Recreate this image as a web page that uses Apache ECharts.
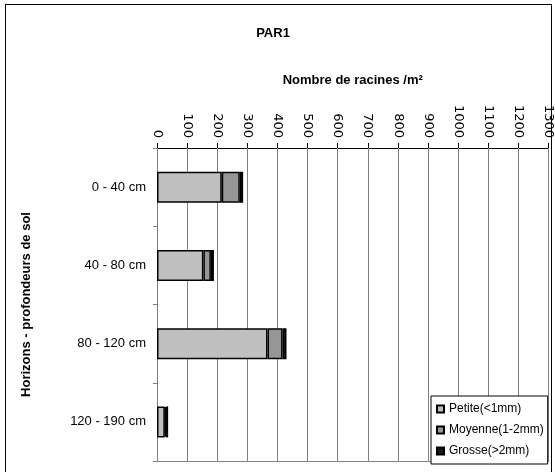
<!DOCTYPE html>
<html>
<head>
<meta charset="utf-8">
<script src="https://cdn.jsdelivr.net/npm/echarts@6/dist/echarts.min.js"></script>
<style>
  html, body { margin: 0; padding: 0; background: #fff; }
  #wrap { position: relative; width: 555px; height: 472px; }
  #chart { width: 555px; height: 472px; }
  #frame { position: absolute; left: 5px; top: 4px; width: 545px; height: 475px;
           border: 1px solid #000; pointer-events: none; }
</style>
</head>
<body>
<div id="wrap">
  <div id="chart"></div>
  <div id="frame"></div>
</div>
<script>
// Root counts per m² by soil horizon and root diameter class
const horizons = ['0 - 40 cm', '40 - 80 cm', '80 - 120 cm', '120 - 190 cm'];
const petite = [215, 154, 367, 26];
const moyenne = [60, 25, 50, 4];
const grosse = [11, 10, 13, 7];
const seriesNames = ['Petite(<1mm)', 'Moyenne(1-2mm)', 'Grosse(>2mm)'];
const seriesColors = ['#c0c0c0', '#969696', '#1a1a1a'];
const xTicks = [0, 100, 200, 300, 400, 500, 600, 700, 800, 900, 1000, 1100, 1200, 1300];

const FONT = '"Liberation Sans", Arial, sans-serif';
const chart = echarts.init(document.getElementById('chart'), null, { renderer: 'canvas' });

const makeSeries = (name, data, color) => ({
  name: name,
  type: 'bar',
  stack: 'total',
  data: data,
  barWidth: 31,
  itemStyle: { color: color, borderColor: '#000', borderWidth: 1.5 },
  emphasis: { disabled: true }
});

// vertical grid at every tick, kept underneath the bars
const gridSeries = makeSeries(seriesNames[0], petite, seriesColors[0]);
gridSeries.markLine = {
  silent: true,
  z: 1,
  symbol: ['none', 'none'],
  label: { show: false },
  lineStyle: { color: '#808080', width: 1, type: 'solid' },
  emphasis: { disabled: true },
  animation: false,
  data: xTicks.map((v) => ({ xAxis: v }))
};

chart.setOption({
  animation: false,
  backgroundColor: '#fff',
  textStyle: { fontFamily: FONT },
  title: {
    text: 'PAR1',
    left: 268,
    top: 22,
    textAlign: 'center',
    textStyle: { fontFamily: FONT, fontSize: 13, fontWeight: 'bold', color: '#000' }
  },
  grid: { left: 157, right: 6, top: 148, bottom: 11 },
  legend: {
    orient: 'vertical',
    left: 431, top: 396,
    width: 118,
    padding: [7, 4, 7, 5],
    itemWidth: 7, itemHeight: 7,
    itemGap: 9,
    icon: 'rect',
    backgroundColor: '#fff',
    borderColor: '#000', borderWidth: 1,
    textStyle: { fontFamily: FONT, fontSize: 12, color: '#000' },
    data: seriesNames
  },
  xAxis: [{
    type: 'value',
    position: 'top',
    min: 0, max: 1300, interval: 100,
    name: 'Nombre de racines /m²',
    nameLocation: 'middle',
    nameGap: 61,
    nameTextStyle: { fontFamily: FONT, fontSize: 13, fontWeight: 'bold', color: '#000' },
    axisLine: { show: true, lineStyle: { color: '#000', width: 1 } },
    axisTick: { show: true, length: 5, lineStyle: { color: '#000' } },
    axisLabel: {
      rotate: 90, margin: 10, fontFamily: '"DejaVu Sans", sans-serif', fontSize: 13, color: '#000',
      formatter: (v) => String(v)
    },
    splitLine: { show: true, lineStyle: { color: '#808080', width: 1 } }
  }, {
    // plain frame line along the bottom of the plot
    type: 'value',
    position: 'bottom',
    min: 0, max: 1300,
    axisLine: { show: true, lineStyle: { color: '#808080' } },
    axisTick: { show: false },
    axisLabel: { show: false },
    splitLine: { show: false }
  }],
  yAxis: [{
    type: 'category',
    inverse: true,
    data: horizons,
    name: 'Horizons - profondeurs de sol',
    nameLocation: 'middle',
    nameGap: 124,
    nameTextStyle: { fontFamily: FONT, fontSize: 13, fontWeight: 'bold', color: '#000' },
    axisLine: { show: true, lineStyle: { color: '#808080' } },
    axisTick: { show: true, length: 4, lineStyle: { color: '#808080' } },
    axisLabel: { margin: 11, fontFamily: FONT, fontSize: 13, color: '#000' },
    splitLine: { show: false }
  }],
  series: [
    gridSeries,
    makeSeries(seriesNames[1], moyenne, seriesColors[1]),
    makeSeries(seriesNames[2], grosse, seriesColors[2])
  ]
});
</script>
</body>
</html>
